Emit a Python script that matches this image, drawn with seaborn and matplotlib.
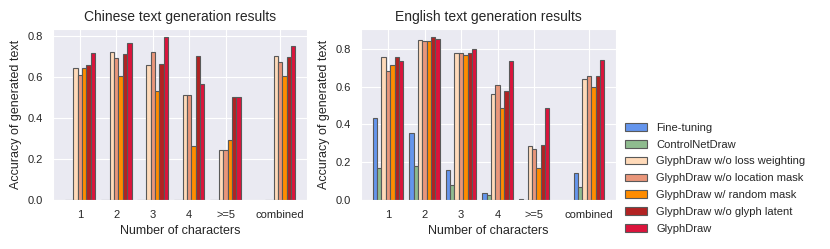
import numpy as np
import pandas as pd
import matplotlib
matplotlib.use('Agg')
import matplotlib.pyplot as plt
import seaborn as sns

# 데이터 준비
groups = ['1', '2', '3', '4', '>=5', 'combined']
group_pos = [0, 1, 2, 3, 4, 5.5]
methods = ['Fine-tuning', 'ControlNetDraw', 'GlyphDraw w/o loss weighting',
           'GlyphDraw w/o location mask', 'GlyphDraw w/ random mask',
           'GlyphDraw w/o glyph latent', 'GlyphDraw']
colors = ['#6495ED', '#8FBC8F', '#FFDAB9', '#E9967A', '#FF8C00', '#B22222', '#DC143C']

# 중국어 결과 (method 별, group 순서)
zh_finetune = [0, 0, 0, 0, 0, 0]
zh_controlnet = [0, 0, 0, 0, 0, 0]
zh_no_loss_w = [0.642, 0.722, 0.655, 0.512, 0.245, 0.698]
zh_no_loc_mask = [0.606, 0.689, 0.722, 0.512, 0.245, 0.672]
zh_rand_mask = [0.642, 0.603, 0.528, 0.265, 0.291, 0.603]
zh_no_glyph = [0.657, 0.709, 0.662, 0.701, 0.499, 0.696]
zh_glyphdraw = [0.715, 0.763, 0.792, 0.566, 0.499, 0.750]

# 영어 결과
en_finetune = [0.433, 0.357, 0.161, 0.039, 0.004, 0.141]
en_controlnet = [0.168, 0.178, 0.078, 0.025, 0.0, 0.071]
en_no_loss_w = [0.759, 0.846, 0.777, 0.560, 0.288, 0.643]
en_no_loc_mask = [0.683, 0.841, 0.777, 0.607, 0.268, 0.655]
en_rand_mask = [0.712, 0.841, 0.770, 0.489, 0.168, 0.600]
en_no_glyph = [0.756, 0.862, 0.779, 0.577, 0.291, 0.655]
en_glyphdraw = [0.735, 0.853, 0.800, 0.735, 0.489, 0.742]

zh_vals = [zh_finetune, zh_controlnet, zh_no_loss_w, zh_no_loc_mask,
           zh_rand_mask, zh_no_glyph, zh_glyphdraw]
en_vals = [en_finetune, en_controlnet, en_no_loss_w, en_no_loc_mask,
           en_rand_mask, en_no_glyph, en_glyphdraw]


def to_long(vals):
    rows = []
    for m, v in zip(methods, vals):
        for p, y in zip(group_pos, v):
            rows.append({'pos': p, 'method': m, 'acc': y})
    return pd.DataFrame(rows)


sns.set_style('darkgrid')
plt.rcParams['font.family'] = ['Liberation Sans', 'DejaVu Sans']

fig = plt.figure(figsize=(8.3, 2.49), dpi=100)
ax1 = fig.add_axes([0.0639, 0.1968, 0.306, 0.6867])
ax2 = fig.add_axes([0.435, 0.1968, 0.307, 0.6867])

for ax, vals, title in [(ax1, zh_vals, 'Chinese text generation results'),
                        (ax2, en_vals, 'English text generation results')]:
    df = to_long(vals)
    sns.barplot(data=df, x='pos', y='acc', hue='method', hue_order=methods,
                palette=colors, native_scale=True, width=0.84, saturation=1,
                errorbar=None, edgecolor='0.35', linewidth=0.8, ax=ax)
    ax.set_xticks(group_pos)
    ax.set_xticklabels(groups, fontsize=8)
    ax.tick_params(axis='y', labelsize=8)
    ax.set_xlabel('Number of characters', fontsize=9)
    ax.set_ylabel('Accuracy of generated text', fontsize=9)
    ax.set_title(title, fontsize=10)
    ax.get_legend().remove()

# 범례는 그림 오른쪽에
handles, labels = ax2.get_legend_handles_labels()
fig.legend(handles, labels, loc='lower left', bbox_to_anchor=(0.741, 0.02),
           frameon=False, fontsize=8, labelspacing=0.62)

plt.savefig('out.png', dpi=100)
plt.close()
